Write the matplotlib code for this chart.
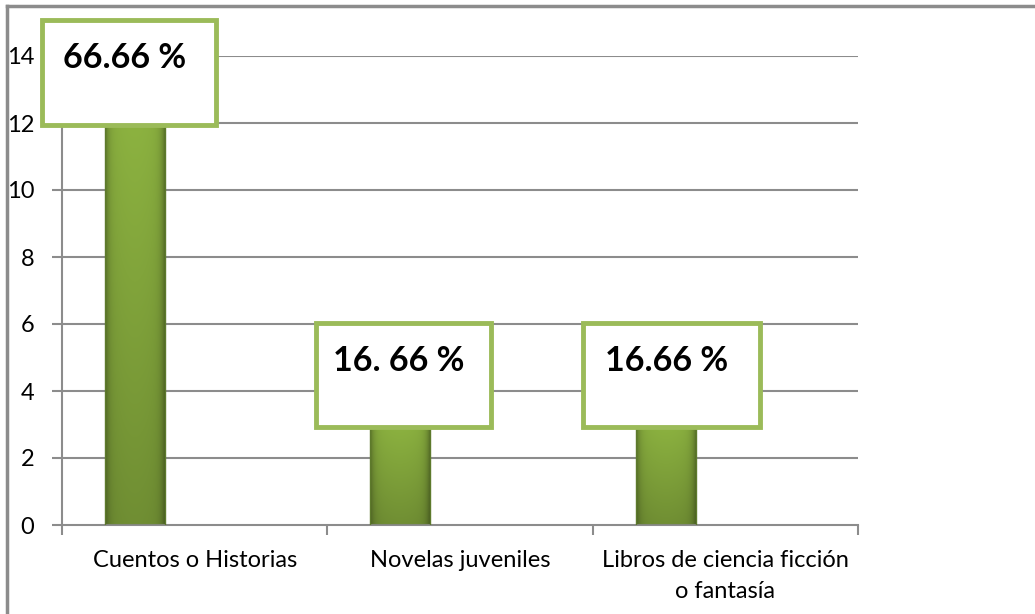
import numpy as np
import matplotlib.pyplot as plt
from matplotlib.patches import Rectangle
from matplotlib.lines import Line2D

categories = ['Cuentos o Historias', 'Novelas juveniles', 'Libros de ciencia ficción\no fantasía']
values = [12, 3, 3]
labels = ['66.66 %', '16. 66 %', '16.66 %']
yticks = [0, 2, 4, 6, 8, 10, 12, 14]

plt.rcParams['font.family'] = ['Lato', 'DejaVu Sans']

fig = plt.figure(figsize=(10.35, 6.14), dpi=100)
ax = fig.add_axes([62 / 1035, 1 - 525 / 614, 796 / 1035, 469 / 614])
ax.set_xlim(-0.5, 2.5)
ax.set_ylim(0, 14)

# grid
for t in yticks[1:]:
    ax.axhline(t, color='#8c8c8c', lw=1.5, zorder=1)

# bars, soft shading darker at the edges and toward the bottom
bw = 0.226
off = -0.225
nx, ny = 64, 64
u = np.linspace(-1, 1, nx)
shade_x = 1 - 0.28 * np.abs(u) ** 8 - 0.06 * u ** 2
for i, v in enumerate(values):
    x0 = i + off - bw / 2
    shade_y = np.linspace(0.8, 1.0, ny)[:, None]
    top = np.array([140, 178, 64]) / 255.0
    img = top[None, None, :] * shade_x[None, :, None] * shade_y[:, :, None]
    img = np.clip(img, 0, 1)
    ax.imshow(img, extent=(x0, x0 + bw, 0, v), origin='lower', aspect='auto',
              zorder=2, interpolation='bilinear')
    ax.add_patch(Rectangle((x0, 0), bw, v, fill=False, ec='#5d7a2c', lw=1.0, zorder=3))

ax.set_xlim(-0.5, 2.5)
ax.set_ylim(0, 14)

# label boxes
boxes = [(-0.575, 11.94, 0.655, 3.13), (0.457, 2.93, 0.66, 3.1), (1.464, 2.93, 0.667, 3.1)]
for (bx, by, bwid, bh), lab in zip(boxes, labels):
    ax.add_patch(Rectangle((bx, by), bwid, bh, fc='white', ec='#9bbb59', lw=3.5,
                           zorder=5, clip_on=False))
    ax.text(bx + bwid / 2 - 0.018, by + bh - 1.13, lab, ha='center', va='center',
            fontsize=24.5, fontweight='bold', color='black', zorder=6, clip_on=False)

# axes
for s in ['top', 'right']:
    ax.spines[s].set_visible(False)
ax.spines['left'].set_color('#8c8c8c')
ax.spines['bottom'].set_color('#8c8c8c')
ax.spines['left'].set_linewidth(1.5)
ax.spines['bottom'].set_linewidth(1.5)
ax.set_yticks(yticks)
ax.set_yticklabels([str(t) for t in yticks], fontsize=17)
ax.tick_params(axis='y', length=7, color='#8c8c8c', width=1.5, pad=13)
ax.set_xticks([0, 1, 2])
ax.set_xticklabels(categories, fontsize=17, linespacing=1.6)
ax.tick_params(axis='x', length=0, pad=18)
ax.set_xticks([-0.5, 0.5, 1.5, 2.5], minor=True)
ax.tick_params(axis='x', which='minor', length=7, color='#8c8c8c', width=1.5)

# chart frame
fig.add_artist(Line2D([7 / 1035, 1], [1 - 6 / 614, 1 - 6 / 614], color='#8c8c8c', lw=2.5))
fig.add_artist(Line2D([7 / 1035, 7 / 1035], [0, 1 - 6 / 614], color='#8c8c8c', lw=2.5))

fig.savefig('out.png', dpi=100, facecolor='white')
